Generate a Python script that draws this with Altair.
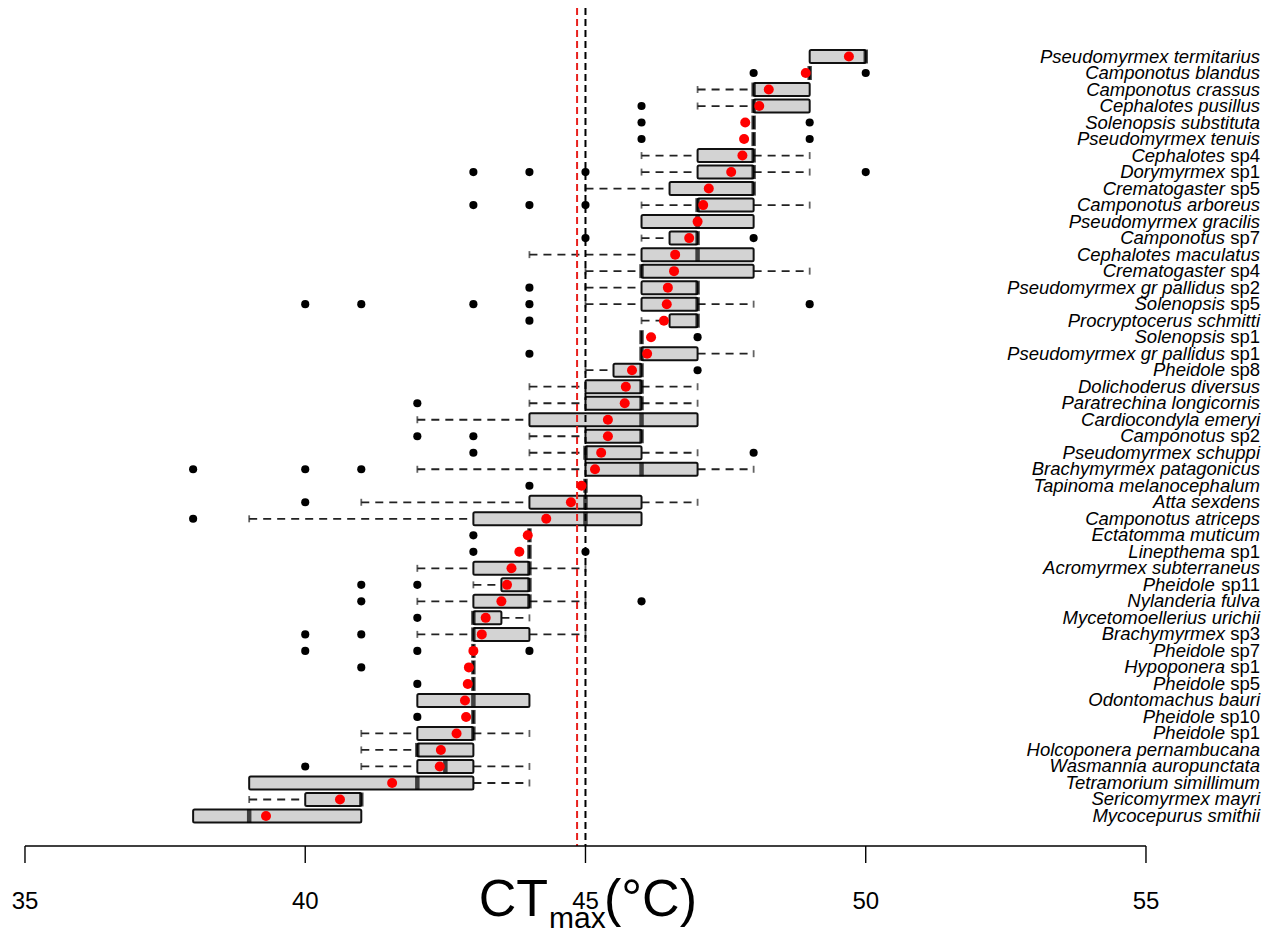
import re
import altair as alt
import pandas as pd

species = [
    "Pseudomyrmex termitarius", "Camponotus blandus", "Camponotus crassus", "Cephalotes pusillus",
    "Solenopsis substituta", "Pseudomyrmex tenuis", "Cephalotes sp4", "Dorymyrmex sp1",
    "Crematogaster sp5", "Camponotus arboreus", "Pseudomyrmex gracilis", "Camponotus sp7",
    "Cephalotes maculatus", "Crematogaster sp4", "Pseudomyrmex gr pallidus sp2", "Solenopsis sp5",
    "Procryptocerus schmitti", "Solenopsis sp1", "Pseudomyrmex gr pallidus sp1", "Pheidole sp8",
    "Dolichoderus diversus", "Paratrechina longicornis", "Cardiocondyla emeryi", "Camponotus sp2",
    "Pseudomyrmex schuppi", "Brachymyrmex patagonicus", "Tapinoma melanocephalum", "Atta sexdens",
    "Camponotus atriceps", "Ectatomma muticum", "Linepthema sp1", "Acromyrmex subterraneus",
    "Pheidole sp11", "Nylanderia fulva", "Mycetomoellerius urichii", "Brachymyrmex sp3",
    "Pheidole sp7", "Hypoponera sp1", "Pheidole sp5", "Odontomachus bauri",
    "Pheidole sp10", "Pheidole sp1", "Holcoponera pernambucana", "Wasmannia auropunctata",
    "Tetramorium simillimum", "Sericomyrmex mayri", "Mycocepurus smithii",
]
whisker_lo = [49, 49, 47, 47, 48, 48, 46, 46, 45, 46, 46, 46, 44, 45, 45, 45, 46, 46, 46, 45,
              44, 44, 42, 44, 44, 42, 45, 41, 39, 44, 44, 42, 43, 42, 43, 42, 43, 43, 43, 42,
              43, 41, 41, 41, 39, 39, 38]
q1 = [49, 49, 48, 48, 48, 48, 47, 47, 46.5, 47, 46, 46.5, 46, 46, 46, 46, 46.5, 46, 46, 45.5,
      45, 45, 44, 45, 45, 45, 45, 44, 43, 44, 44, 43, 43.5, 43, 43, 43, 43, 43, 43, 42,
      43, 42, 42, 42, 39, 40, 38]
median = [50, 49, 48, 48, 48, 48, 48, 48, 48, 47, 47, 47, 47, 46, 47, 47, 47, 46, 46, 46,
          46, 46, 46, 46, 45, 46, 45, 45, 45, 44, 44, 44, 44, 44, 43, 43, 43, 43, 43, 43,
          43, 43, 42, 42.5, 42, 41, 39]
q3 = [50, 49, 49, 49, 48, 48, 48, 48, 48, 48, 48, 47, 48, 48, 47, 47, 47, 46, 47, 46,
      46, 46, 47, 46, 46, 47, 45, 46, 46, 44, 44, 44, 44, 44, 43.5, 44, 43, 43, 43, 44,
      43, 43, 43, 43, 43, 41, 41]
whisker_hi = [50, 49, 49, 49, 48, 48, 49, 49, 48, 49, 48, 47, 48, 49, 47, 48, 47, 46, 48, 46,
              47, 47, 47, 46, 47, 48, 45, 47, 46, 44, 44, 45, 44, 45, 44, 45, 43, 43, 43, 44,
              43, 44, 43, 44, 44, 41, 41]
mean = [49.7, 48.93, 48.27, 48.1, 47.85, 47.83, 47.8, 47.6, 47.2, 47.1, 47.0, 46.85, 46.6, 46.58,
        46.47, 46.45, 46.4, 46.17, 46.1, 45.83, 45.72, 45.7, 45.4, 45.4, 45.28, 45.17, 44.93,
        44.74, 44.3, 43.97, 43.82, 43.68, 43.6, 43.5, 43.22, 43.15, 43.0, 42.92, 42.9, 42.85,
        42.87, 42.7, 42.42, 42.4, 41.55, 40.62, 39.3]

outlier_species = [
    "Camponotus blandus", "Camponotus blandus", "Cephalotes pusillus",
    "Solenopsis substituta", "Solenopsis substituta", "Pseudomyrmex tenuis", "Pseudomyrmex tenuis",
    "Dorymyrmex sp1", "Dorymyrmex sp1", "Dorymyrmex sp1", "Dorymyrmex sp1",
    "Camponotus arboreus", "Camponotus arboreus", "Camponotus arboreus",
    "Camponotus sp7", "Camponotus sp7", "Pseudomyrmex gr pallidus sp2",
    "Solenopsis sp5", "Solenopsis sp5", "Solenopsis sp5", "Solenopsis sp5", "Solenopsis sp5",
    "Procryptocerus schmitti", "Solenopsis sp1", "Pseudomyrmex gr pallidus sp1", "Pheidole sp8",
    "Paratrechina longicornis", "Camponotus sp2", "Camponotus sp2",
    "Pseudomyrmex schuppi", "Pseudomyrmex schuppi",
    "Brachymyrmex patagonicus", "Brachymyrmex patagonicus", "Brachymyrmex patagonicus",
    "Tapinoma melanocephalum", "Atta sexdens", "Camponotus atriceps", "Ectatomma muticum",
    "Linepthema sp1", "Linepthema sp1", "Pheidole sp11", "Pheidole sp11",
    "Nylanderia fulva", "Nylanderia fulva", "Mycetomoellerius urichii",
    "Brachymyrmex sp3", "Brachymyrmex sp3", "Pheidole sp7", "Pheidole sp7", "Pheidole sp7",
    "Hypoponera sp1", "Pheidole sp5", "Pheidole sp10", "Wasmannia auropunctata",
]
outlier_value = [
    48, 50, 46,
    46, 49, 46, 49,
    43, 44, 45, 50,
    43, 44, 45,
    45, 48, 44,
    40, 41, 43, 44, 49,
    44, 47, 44, 47,
    42, 42, 43,
    43, 48,
    38, 40, 41,
    44, 40, 38, 43,
    43, 45, 41, 42,
    41, 46, 42,
    40, 41, 40, 42, 44,
    41, 42, 42, 40,
]

axis_ticks = [35, 40, 45, 50, 55]
ref_lines = [44.85, 45.0]
ref_colors = ["#e8211d", "#000000"]

# ---------------------------------------------------------------- layout
W, H = 1254, 838
X_DOMAIN = [34.697, 57.07]
Y_RANGE = [48.5, 808]
BOX = 13
FS = 18.5
FONT = "Liberation Sans, Arial, Helvetica, sans-serif"
WHISK = "#222222"

main_part, suffix_part = [], []
for s in species:
    toks = s.split(" ")
    if re.fullmatch(r"sp\d+", toks[-1]):
        main_part.append(" ".join(toks[:-1]))
        suffix_part.append(toks[-1])
    else:
        main_part.append(s)
        suffix_part.append("")

df = pd.DataFrame({
    "species": species, "wlo": whisker_lo, "q1": q1, "med": median, "q3": q3,
    "whi": whisker_hi, "mean": mean, "main": main_part, "suffix": suffix_part,
})
df["slen"] = df["suffix"].str.len()
out = pd.DataFrame({"species": outlier_species, "value": outlier_value})
refs = pd.DataFrame({"x": ref_lines, "c": ref_colors})
ticks_df = pd.DataFrame({"t": axis_ticks, "lab": [str(t) for t in axis_ticks]})
axis_df = pd.DataFrame({"a": [min(axis_ticks)], "b": [max(axis_ticks)]})

xscale = alt.Scale(domain=X_DOMAIN, nice=False, zero=False)
yenc = alt.Y("species:N", scale=alt.Scale(type="point", domain=species, range=Y_RANGE, padding=0),
             axis=None)


def X(field):
    return alt.X(field, scale=xscale, axis=None)


base = alt.Chart(df)

whisk_lo = base.transform_filter("datum.wlo < datum.q1").mark_rule(
    strokeDash=[8, 6], strokeWidth=1.8, color=WHISK).encode(x=X("wlo:Q"), x2="q1:Q", y=yenc)
whisk_hi = base.transform_filter("datum.whi > datum.q3").mark_rule(
    strokeDash=[8, 6], strokeWidth=1.8, color=WHISK).encode(x=X("q3:Q"), x2="whi:Q", y=yenc)
cap_lo = base.transform_filter("datum.wlo < datum.q1").mark_tick(
    size=7, thickness=1.8, color=WHISK).encode(x=X("wlo:Q"), y=yenc)
cap_hi = base.transform_filter("datum.whi > datum.q3").mark_tick(
    size=7, thickness=1.8, color=WHISK).encode(x=X("whi:Q"), y=yenc)

boxes = base.mark_bar(size=BOX, fill="#d3d3d3", stroke="#111111", strokeWidth=2,
                      cornerRadius=1.5).encode(x=X("q1:Q"), x2="q3:Q", y=yenc)

medians = base.mark_tick(size=BOX + 1, thickness=4.5, color="black").encode(
    x=X("med:Q"), y=yenc)

outliers = alt.Chart(out).mark_circle(size=66, color="black", opacity=1).encode(
    x=X("value:Q"), y=yenc)

vlines = alt.Chart(refs).mark_rule(strokeDash=[7, 4], strokeWidth=2).encode(
    x=X("x:Q"), y=alt.value(0), y2=alt.value(H),
    color=alt.Color("c:N", scale=None, legend=None))

means = base.mark_circle(size=100, color="#ff0000", opacity=1).encode(
    x=X("mean:Q"), y=yenc)

# bottom axis drawn R-style: line from first to last tick, ticks, labels
axis_line = alt.Chart(axis_df).mark_rule(color="black", strokeWidth=1.4).encode(
    x=X("a:Q"), x2="b:Q", y=alt.value(H))
axis_ticks_m = alt.Chart(ticks_df).mark_rule(color="black", strokeWidth=1.4).encode(
    x=X("t:Q"), y=alt.value(H), y2=alt.value(H + 17))
axis_labels = alt.Chart(ticks_df).mark_text(
    fontSize=24, font=FONT, color="black", baseline="middle", align="center").encode(
    x=X("t:Q"), y=alt.value(H + 56), text="lab:N")

# species labels: italic name + upright "spN"
LX = 1252
suffix_w = {3: FS * 1.89, 4: FS * 2.446}
label_layers = [
    base.transform_filter("datum.slen == 0").mark_text(
        align="right", baseline="middle", fontSize=FS, font=FONT, fontStyle="italic",
        color="black").encode(x=alt.value(LX), y=yenc, text="main:N"),
    base.transform_filter("datum.slen == 3").mark_text(
        align="right", baseline="middle", fontSize=FS, font=FONT, fontStyle="italic",
        color="black", dx=-suffix_w[3]).encode(x=alt.value(LX), y=yenc, text="main:N"),
    base.transform_filter("datum.slen == 4").mark_text(
        align="right", baseline="middle", fontSize=FS, font=FONT, fontStyle="italic",
        color="black", dx=-suffix_w[4]).encode(x=alt.value(LX), y=yenc, text="main:N"),
    base.transform_filter("datum.slen > 0").mark_text(
        align="right", baseline="middle", fontSize=FS, font=FONT,
        color="black").encode(x=alt.value(LX), y=yenc, text="suffix:N"),
]

# axis title CT_max (°C)
t_df = pd.DataFrame({"a": ["CT"], "b": ["max"], "c": ["(°C)"]})
tbase = alt.Chart(t_df)
title_layers = [
    tbase.mark_text(align="right", baseline="alphabetic", fontSize=52, font=FONT,
                    color="black").encode(x=alt.value(540), y=alt.value(908), text="a:N"),
    tbase.mark_text(align="left", baseline="alphabetic", fontSize=30, font=FONT,
                    color="black").encode(x=alt.value(541), y=alt.value(920), text="b:N"),
    tbase.mark_text(align="left", baseline="alphabetic", fontSize=52, font=FONT,
                    color="black").encode(x=alt.value(596), y=alt.value(908), text="c:N"),
]

chart = alt.layer(
    whisk_lo, whisk_hi, cap_lo, cap_hi, boxes, medians, outliers, vlines, means,
    axis_line, axis_ticks_m, axis_labels, *label_layers, *title_layers,
).properties(
    width=W, height=H,
    autosize=alt.AutoSizeParams(type="none"),
    padding={"left": 0, "right": 0, "top": 0, "bottom": 89},
).configure_view(stroke=None)

chart.save("out.html", embed_options={"renderer": "svg", "actions": False})
